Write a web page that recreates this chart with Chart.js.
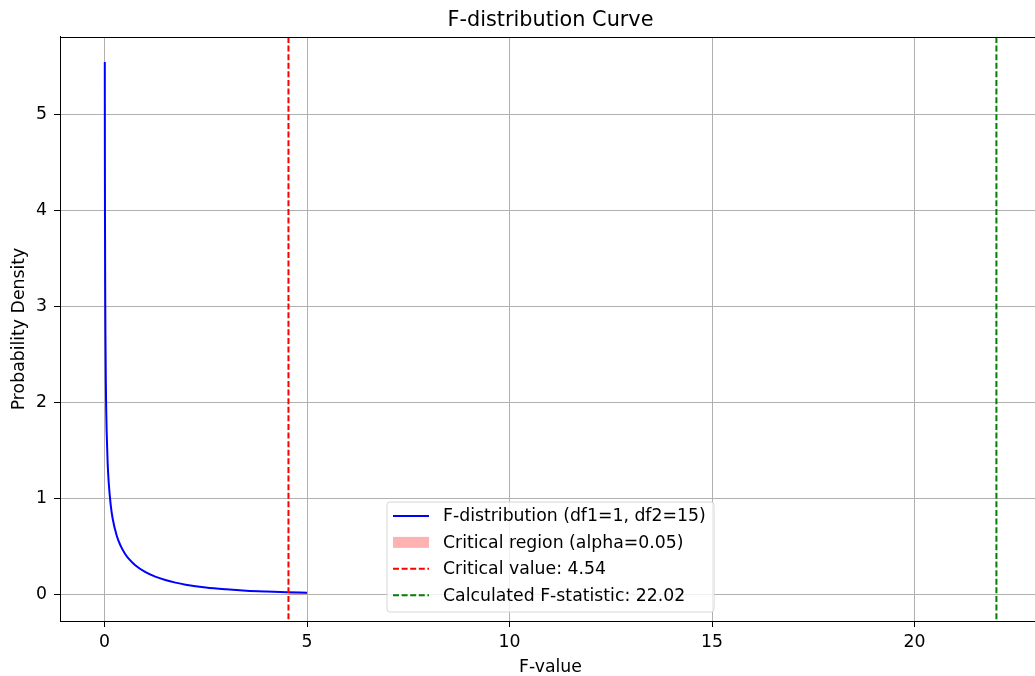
<!DOCTYPE html>
<html>
<head>
<meta charset="utf-8">
<script src="https://cdn.jsdelivr.net/npm/chart.js@4.4.1/dist/chart.umd.min.js"></script>
<style>
  html, body { margin: 0; padding: 0; background: #fff; overflow: hidden; }
  #wrap { width: 1045px; height: 676px; position: relative; }
</style>
</head>
<body>
<div id="wrap"><canvas id="fChart"></canvas></div>
<script>
// ===============================================
// Data
// ===============================================
const fValues   = [0.005, 0.0075, 0.01, 0.015, 0.02, 0.03, 0.04, 0.05, 0.075, 0.1, 0.15, 0.2, 0.3, 0.4, 0.5, 0.6, 0.75, 1, 1.25, 1.5, 1.75, 2, 2.5, 3, 3.5, 4, 4.5, 5];
const densities = [5.55, 4.51, 3.90, 3.18, 2.745, 2.23, 1.92, 1.71, 1.377, 1.177, 0.936, 0.789, 0.612, 0.503, 0.427, 0.370, 0.307, 0.234, 0.185, 0.150, 0.123, 0.102, 0.072, 0.053, 0.039, 0.030, 0.023, 0.018];

const regionX = [4.54, 4.75, 5];
const regionY = [0.022, 0.020, 0.018];

const criticalValue = 4.54;
const fStatistic = 22.02;

const xTicks = [0, 5, 10, 15, 20];
const yTicks = [0, 1, 2, 3, 4, 5];

const legendItems = [
    { text: 'F-distribution (df1=1, df2=15)', kind: 'line', color: '#0000ff' },
    { text: 'Critical region (alpha=0.05)', kind: 'patch', color: 'rgba(255, 0, 0, 0.3)' },
    { text: 'Critical value: ' + criticalValue.toFixed(2), kind: 'dash', color: '#ff0000' },
    { text: 'Calculated F-statistic: ' + fStatistic.toFixed(2), kind: 'dash', color: '#008000' }
];

const FONT = '"DejaVu Sans", "Liberation Sans", sans-serif';
const TXT = 17.3;

// ===============================================
// Plugins: frame, vertical lines, legend box
// ===============================================
const vLinesPlugin = {
    id: 'vLines',
    afterDatasetsDraw(chart) {
        const { ctx, chartArea, scales } = chart;
        const lines = [[criticalValue, '#ff0000'], [fStatistic, '#008000']];
        ctx.save();
        ctx.beginPath();
        ctx.rect(chartArea.left, chartArea.top, chartArea.right - chartArea.left, chartArea.bottom - chartArea.top);
        ctx.clip();
        lines.forEach(([v, c]) => {
            const px = scales.x.getPixelForValue(v);
            ctx.strokeStyle = c;
            ctx.lineWidth = 2;
            ctx.setLineDash([6, 2.6]);
            ctx.beginPath();
            ctx.moveTo(px, chartArea.top);
            ctx.lineTo(px, chartArea.bottom);
            ctx.stroke();
        });
        ctx.restore();
    }
};

const framePlugin = {
    id: 'frame',
    afterDraw(chart) {
        const { ctx, chartArea } = chart;
        ctx.save();
        ctx.strokeStyle = '#000';
        ctx.lineWidth = 1;
        ctx.strokeRect(Math.round(chartArea.left) + 0.5, Math.round(chartArea.top) + 0.5,
            Math.round(chartArea.right - chartArea.left), Math.round(chartArea.bottom - chartArea.top));
        ctx.restore();
    }
};

const legendBoxPlugin = {
    id: 'legendBox',
    afterDraw(chart) {
        const ctx = chart.ctx;
        const left = 387, top = 502, w = 327, h = 110, r = 3;
        ctx.save();
        ctx.beginPath();
        ctx.moveTo(left + r, top);
        ctx.lineTo(left + w - r, top);
        ctx.quadraticCurveTo(left + w, top, left + w, top + r);
        ctx.lineTo(left + w, top + h - r);
        ctx.quadraticCurveTo(left + w, top + h, left + w - r, top + h);
        ctx.lineTo(left + r, top + h);
        ctx.quadraticCurveTo(left, top + h, left, top + h - r);
        ctx.lineTo(left, top + r);
        ctx.quadraticCurveTo(left, top, left + r, top);
        ctx.closePath();
        ctx.fillStyle = 'rgba(255, 255, 255, 0.8)';
        ctx.fill();
        ctx.strokeStyle = '#d6d6d6';
        ctx.lineWidth = 1;
        ctx.stroke();

        ctx.font = TXT + 'px ' + FONT;
        ctx.textBaseline = 'middle';
        ctx.textAlign = 'left';
        legendItems.forEach((item, i) => {
            const y = top + 14 + i * 26.4;
            const x0 = left + 6, x1 = left + 42;
            if (item.kind === 'patch') {
                ctx.fillStyle = item.color;
                ctx.fillRect(x0, y - 5.5, x1 - x0, 11);
            } else {
                ctx.strokeStyle = item.color;
                ctx.lineWidth = 2;
                ctx.setLineDash(item.kind === 'dash' ? [6, 2.6] : []);
                ctx.beginPath();
                ctx.moveTo(x0, y);
                ctx.lineTo(x1, y);
                ctx.stroke();
                ctx.setLineDash([]);
            }
            ctx.fillStyle = '#000';
            ctx.fillText(item.text, left + 56, y + 1);
        });
        ctx.restore();
    }
};

// ===============================================
// Chart
// ===============================================
const ctx = document.getElementById('fChart').getContext('2d');

new Chart(ctx, {
    type: 'line',
    data: {
        datasets: [
            {
                label: legendItems[0].text,
                data: fValues.map((x, i) => ({ x: x, y: densities[i] })),
                borderColor: '#0000ff',
                borderWidth: 2,
                pointRadius: 0,
                cubicInterpolationMode: 'monotone',
                fill: false
            },
            {
                label: legendItems[1].text,
                data: regionX.map((x, i) => ({ x: x, y: regionY[i] })),
                borderWidth: 0,
                pointRadius: 0,
                backgroundColor: 'rgba(255, 0, 0, 0.3)',
                fill: 'origin'
            }
        ]
    },
    options: {
        responsive: true,
        maintainAspectRatio: false,
        animation: false,
        layout: { padding: { right: 4 } },
        plugins: {
            legend: { display: false },
            tooltip: { enabled: false },
            title: {
                display: true,
                fullSize: false,
                text: 'F-distribution Curve',
                color: '#000',
                font: { family: FONT, size: 20.8, weight: 'normal' },
                padding: { top: 8.5, bottom: 3.5 }
            }
        },
        scales: {
            x: {
                type: 'linear',
                min: -1.101,
                max: 23.121,
                afterBuildTicks: s => { s.ticks = xTicks.map(v => ({ value: v })); },
                afterFit: s => { s.height = 55; },
                grid: { color: '#b0b0b0', lineWidth: 1, tickColor: '#000', tickLength: 6 },
                border: { color: '#000', width: 1 },
                ticks: { color: '#000', padding: 5, maxRotation: 0, font: { family: FONT, size: TXT } },
                title: {
                    display: true,
                    text: 'F-value',
                    color: '#000',
                    font: { family: FONT, size: TXT },
                    padding: { top: 0, bottom: -2 }
                }
            },
            y: {
                type: 'linear',
                min: -0.277,
                max: 5.812,
                afterBuildTicks: s => { s.ticks = yTicks.map(v => ({ value: v })); },
                afterFit: s => { s.width = 60; },
                grid: { color: '#b0b0b0', lineWidth: 1, tickColor: '#000', tickLength: 6 },
                border: { color: '#000', width: 1 },
                ticks: { color: '#000', padding: 7, font: { family: FONT, size: TXT } },
                title: {
                    display: true,
                    text: 'Probability Density',
                    color: '#000',
                    font: { family: FONT, size: TXT },
                    padding: { top: 9, bottom: 0 }
                }
            }
        }
    },
    plugins: [vLinesPlugin, framePlugin, legendBoxPlugin]
});
</script>
</body>
</html>
